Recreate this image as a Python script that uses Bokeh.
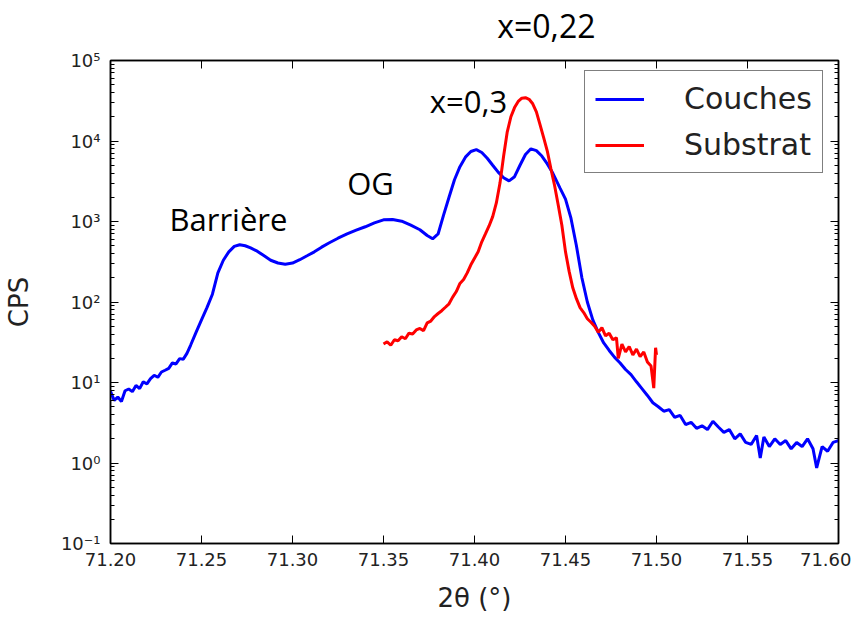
from bokeh.plotting import figure
from bokeh.models import (ColumnDataSource, FixedTicker, LinearAxis, LogAxis,
                          Label, Legend, LegendItem, Range1d)
from bokeh.embed import file_html
from bokeh.resources import INLINE

# ---- data ----
couches_x = [71.200, 71.202, 71.204, 71.206, 71.208, 71.210, 71.212, 71.214, 71.216, 71.218,
             71.220, 71.222, 71.224, 71.226, 71.228, 71.230, 71.232, 71.234, 71.236, 71.238,
             71.240, 71.242, 71.244, 71.247, 71.250, 71.253, 71.256, 71.259, 71.262, 71.265,
             71.268, 71.271, 71.274, 71.277, 71.280, 71.284, 71.288, 71.292, 71.296, 71.300,
             71.304, 71.308, 71.312, 71.316, 71.320, 71.325, 71.330, 71.335, 71.340, 71.345,
             71.350, 71.355, 71.360, 71.365, 71.370, 71.374, 71.377, 71.380, 71.383, 71.386,
             71.389, 71.392, 71.395, 71.398, 71.401, 71.404, 71.407, 71.410, 71.413, 71.416,
             71.419, 71.422, 71.425, 71.428, 71.431, 71.434, 71.437, 71.440, 71.443, 71.447,
             71.450, 71.453, 71.456, 71.459, 71.462, 71.465, 71.468, 71.471, 71.474, 71.477,
             71.480, 71.483, 71.486, 71.489, 71.492, 71.495, 71.498, 71.501, 71.504, 71.507,
             71.510, 71.513, 71.516, 71.519, 71.522, 71.525, 71.528, 71.531, 71.534, 71.537,
             71.540, 71.543, 71.546, 71.549, 71.552, 71.555, 71.557, 71.559, 71.562, 71.565,
             71.568, 71.571, 71.574, 71.577, 71.580, 71.583, 71.586, 71.588, 71.591, 71.594,
             71.597, 71.600]
couches_y = [7.8, 6.0, 6.6, 5.8, 7.9, 8.3, 7.7, 9.2, 8.4, 10.2,
             9.6, 11.2, 12.3, 11.6, 13.5, 14.2, 15.0, 17.5, 17.0, 19.8,
             19.5, 23, 29, 42, 60, 85, 125, 230, 330, 420,
             490, 515, 500, 470, 435, 380, 330, 305, 295, 305,
             335, 375, 420, 480, 540, 620, 700, 780, 860, 960,
             1050, 1060, 1010, 900, 790, 670, 610, 700, 1200, 2000,
             3300, 4800, 6300, 7400, 7800, 7200, 6100, 5000, 4100, 3500,
             3200, 3600, 5000, 6800, 8000, 7600, 6500, 5200, 4000, 2600,
             1900, 1100, 500, 200, 100, 60, 42, 31, 25, 20.5,
             17.5, 14.5, 12.5, 10.2, 8.4, 6.9, 5.6, 5.0, 4.4, 4.6,
             3.7, 3.9, 3.0, 3.2, 2.7, 2.9, 2.6, 3.3, 2.8, 2.4,
             2.6, 2.0, 2.3, 1.8, 1.7, 2.2, 1.15, 2.1, 1.6, 2.0,
             1.7, 1.9, 1.5, 1.8, 1.6, 2.0, 1.5, 0.87, 1.6, 1.4,
             1.8, 1.9]

substrat_x = [71.350, 71.352, 71.354, 71.356, 71.358, 71.360, 71.362, 71.364, 71.366, 71.368,
              71.370, 71.372, 71.374, 71.376, 71.378, 71.380, 71.382, 71.384, 71.386, 71.388,
              71.390, 71.392, 71.394, 71.396, 71.398, 71.400, 71.402, 71.404, 71.406, 71.408,
              71.410, 71.412, 71.414, 71.416, 71.418, 71.420, 71.422, 71.424, 71.426, 71.428,
              71.430, 71.432, 71.434, 71.436, 71.438, 71.440, 71.442, 71.444, 71.446, 71.448,
              71.450, 71.452, 71.454, 71.456, 71.458, 71.460, 71.462, 71.464, 71.466, 71.468,
              71.470, 71.472, 71.474, 71.476, 71.478, 71.479, 71.481, 71.483, 71.485, 71.487,
              71.489, 71.491, 71.493, 71.495, 71.497, 71.4985, 71.4995, 71.500]
substrat_y = [30, 32, 29, 34, 33, 37, 35, 41, 40, 45,
              47, 44, 55, 58, 66, 72, 78, 86, 95, 115,
              135, 170, 190, 230, 290, 350, 420, 560, 700, 880,
              1150, 1700, 3000, 6500, 13000, 20000, 26000, 31000, 34000, 34500,
              33000, 29000, 23000, 16000, 11000, 7500, 4500, 2800, 1600, 900,
              420, 240, 150, 110, 85, 74, 62, 56, 50, 42,
              48, 38, 41, 34, 36, 20, 30, 24, 28, 22,
              26, 21, 24, 18, 16, 8.5, 27, 22]

y_tick_values = [0.1, 1, 10, 100, 1000, 10000, 100000]
y_tick_labels = ["10\u207b\u00b9", "10\u2070", "10\u00b9", "10\u00b2", "10\u00b3", "10\u2074", "10\u2075"]
x_tick_values = [71.20, 71.25, 71.30, 71.35, 71.40, 71.45, 71.50, 71.55, 71.60]
x_tick_labels = ["71.20", "71.25", "71.30", "71.35", "71.40", "71.45", "71.50", "71.55", "71.60"]

annotations = [("Barri\u00e8re", 71.2648, 1074), ("OG", 71.3429, 3010),
               ("x=0,3", 71.3967, 31400)]
top_annotation = ("x=0,22", 71.4395)

minor_ticks = [m * v for v in y_tick_values[:-1] for m in range(2, 10)]

p = figure(width=850, height=600, frame_width=728, frame_height=483,
           y_axis_type="log", x_range=Range1d(71.20, 71.60), y_range=Range1d(0.1, 1e5),
           output_backend="svg", toolbar_location=None,
           min_border_left=102, min_border_top=60, min_border_right=13, min_border_bottom=57)
p.xgrid.visible = False
p.ygrid.visible = False
p.outline_line_color = "black"
p.outline_line_width = 1.5
p.background_fill_color = "white"
p.border_fill_color = "white"

src_c = ColumnDataSource(dict(x=couches_x, y=couches_y))
src_s = ColumnDataSource(dict(x=substrat_x, y=substrat_y))
r1 = p.line("x", "y", source=src_c, line_color="#0000ff", line_width=3)
r2 = p.line("x", "y", source=src_s, line_color="#ff0000", line_width=3)

yt = FixedTicker(ticks=y_tick_values, minor_ticks=minor_ticks)
xt = FixedTicker(ticks=x_tick_values)

def style_axis(ax, labels=True):
    ax.axis_line_color = "black"
    ax.axis_line_width = 1.5
    ax.major_tick_in = 8
    ax.major_tick_out = 0
    ax.minor_tick_in = 4
    ax.minor_tick_out = 0
    ax.major_tick_line_color = "black"
    ax.minor_tick_line_color = "black"
    ax.major_label_text_font = "DejaVu Sans"
    ax.major_label_text_font_size = "18px"
    ax.major_label_text_color = "#222222"
    if not labels:
        ax.major_label_text_alpha = 0
        ax.major_label_text_font_size = "1px"
        ax.major_label_standoff = 0

# bottom x axis
xa = p.xaxis[0]
xa.ticker = xt
style_axis(xa)
xa.minor_tick_line_color = None
xa.major_label_overrides = dict(zip(x_tick_values, x_tick_labels))
xa.major_label_standoff = 9
xa.axis_label = "2\u03b8 (\u00b0)"
xa.axis_label_text_font = "DejaVu Sans"
xa.axis_label_text_font_size = "26px"
xa.axis_label_text_font_style = "normal"
xa.axis_label_text_color = "#222222"
xa.axis_label_standoff = 14

# left y axis
ya = p.yaxis[0]
ya.ticker = yt
style_axis(ya)
ya.major_label_overrides = dict(zip(y_tick_values, y_tick_labels))
ya.major_label_standoff = 10
ya.axis_label = "CPS"
ya.axis_label_text_font = "DejaVu Sans"
ya.axis_label_text_font_size = "26px"
ya.axis_label_text_font_style = "normal"
ya.axis_label_text_color = "#222222"
ya.axis_label_standoff = 24

# mirrored axes (top and right)
top = LinearAxis(ticker=xt)
style_axis(top, labels=False)
top.minor_tick_line_color = None
p.add_layout(top, "above")
right = LogAxis(ticker=yt)
style_axis(right, labels=False)
p.add_layout(right, "right")

# annotation above the frame: an axis that carries only one label (no line, no tick)
ann_axis = LinearAxis(ticker=FixedTicker(ticks=[top_annotation[1]]))
ann_axis.axis_line_color = None
ann_axis.major_tick_line_color = None
ann_axis.minor_tick_line_color = None
ann_axis.major_tick_in = 0
ann_axis.major_tick_out = 0
ann_axis.major_label_overrides = {top_annotation[1]: top_annotation[0]}
ann_axis.major_label_text_font = "Open Sans"
ann_axis.major_label_text_font_size = "32px"
ann_axis.major_label_text_color = "black"
ann_axis.major_label_standoff = 14
p.add_layout(ann_axis, "above")

for txt, ax_, ay_ in annotations:
    p.add_layout(Label(x=ax_, y=ay_, text=txt, text_font="Open Sans", text_font_size="31px",
                       text_align="center", text_baseline="middle", text_color="black"))

legend = Legend(items=[LegendItem(label="Couches", renderers=[r1]),
                       LegendItem(label="Substrat", renderers=[r2])],
                location=(474, 370), orientation="vertical")
legend.label_text_font = "DejaVu Sans"
legend.label_text_font_size = "30px"
legend.label_text_color = "#222222"
legend.glyph_width = 49
legend.glyph_height = 30
legend.label_height = 30
legend.label_standoff = 40
legend.spacing = 11
legend.padding = 10
legend.margin = 0
legend.border_line_color = "black"
legend.border_line_width = 1.5
legend.background_fill_alpha = 1
p.add_layout(legend, "center")

open("out.html", "w").write(file_html(p, INLINE))
